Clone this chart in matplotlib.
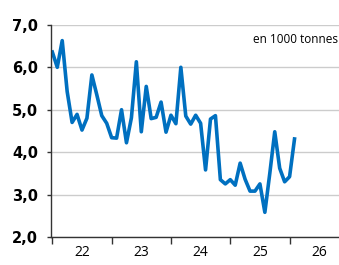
import matplotlib
matplotlib.use("Agg")
import matplotlib.pyplot as plt

# monthly values, Jan 2022 .. Feb 2026 (1000 tonnes)
values = [6.36, 6.00, 6.63, 5.43, 4.70, 4.89, 4.52, 4.80, 5.82, 5.35, 4.86, 4.68,
          4.34, 4.33, 5.00, 4.22, 4.81, 6.13, 4.48, 5.55, 4.79, 4.82, 5.18, 4.47,
          4.87, 4.67, 6.00, 4.85, 4.66, 4.87, 4.68, 3.58, 4.78, 4.86, 3.35, 3.25,
          3.35, 3.22, 3.74, 3.36, 3.08, 3.08, 3.25, 2.58, 3.50, 4.48, 3.62, 3.30,
          3.42, 4.31]
year_labels = ["22", "23", "24", "25", "26"]
y_ticks = [2.0, 3.0, 4.0, 5.0, 6.0, 7.0]
unit_text = "en 1000 tonnes"

months = list(range(len(values)))

fig = plt.figure(figsize=(3.39, 2.65), dpi=100)
ax = fig.add_axes([0.150, 0.106, 0.85, 0.80])

ax.plot(months, values, color="#0070C0", linewidth=2.6, solid_joinstyle="round")

ax.set_ylim(2.0, 7.0)
ax.set_xlim(-0.3, 58)
ax.set_yticks(y_ticks)
ax.set_yticklabels([f"{v:.1f}".replace(".", ",") for v in y_ticks],
                   fontweight="bold", fontsize=10.5, family="DejaVu Sans")
ax.grid(axis="y", color="#cccccc", linewidth=1)
ax.set_axisbelow(True)

# year boundaries as tick marks, labels centred on each year
ax.set_xticks([0, 12, 24, 36, 48])
ax.set_xticklabels([])
ax.set_xticks([6 + 12 * i for i in range(len(year_labels))], minor=True)
ax.set_xticklabels(year_labels, minor=True, fontsize=10, family="Open Sans")
ax.tick_params(axis="x", which="major", length=5, width=1, color="#333333")
ax.tick_params(axis="x", which="minor", length=0, pad=6)
ax.tick_params(axis="y", length=3, width=1, color="#333333", pad=6)

for s in ["top", "right"]:
    ax.spines[s].set_visible(False)
for s in ["left", "bottom"]:
    ax.spines[s].set_color("#333333")
    ax.spines[s].set_linewidth(1)

ax.text(0.70, 0.93, unit_text, transform=ax.transAxes, ha="left", va="center",
        fontsize=8.5, family="Open Sans")

fig.savefig("out.png", dpi=100)
